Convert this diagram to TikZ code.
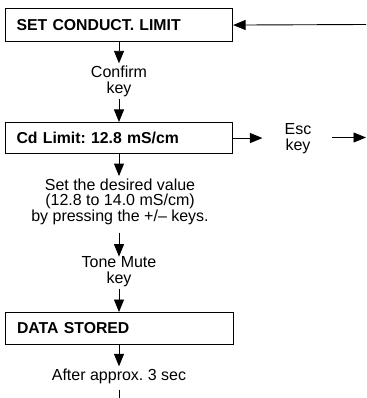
\documentclass[tikz,border=0pt]{standalone}
\usepackage{fontspec}
\setmainfont{Liberation Sans}
\usetikzlibrary{arrows.meta}
\frenchspacing
\begin{document}
\begin{tikzpicture}[x=1pt,y=-1pt,
  box/.style={draw, line width=1.1pt, anchor=north west, minimum width=227pt,
    text width=205pt, inner xsep=11pt, inner ysep=0pt, align=left,
    font=\fontsize{15.8}{18}\selectfont\bfseries},
  lbl/.style={align=center, inner sep=0pt, font=\fontsize{16}{16}\selectfont},
  arr/.style={line width=0.9pt, -{Triangle[length=12.5pt,width=10pt]}},
  ln/.style={line width=0.9pt}]
\useasboundingbox (0,0) rectangle (366,398);
\node[box, minimum height=33pt] (b1) at (5,8) {SET CONDUCT. LIMIT};
\node[lbl] (c1) at (119,81) {Confirm\\key};
\node[box, minimum height=31pt] (b2) at (5,122) {Cd Limit: 12.8 mS/cm};
\node[lbl] (esc) at (298,139) {Esc\\key};
\node[lbl, font=\fontsize{16}{14.6}\selectfont] (sv) at (120,202) {Set the desired value\\(12.8 to 14.0 mS/cm)\\by pressing the +/– keys.};
\node[lbl] (tm) at (119,272) {Tone Mute\\key};
\node[box, minimum height=32pt, minimum width=228pt] (b3) at (5,312) {DATA STORED};
\node[lbl] (af) at (119,376) {After approx. 3 sec};
\coordinate (tr) at (366,24.5);
\coordinate (er) at (366,137.5);
\coordinate (bt) at (119,399);
\draw[arr] (tr) -- (b1.east);
\draw[arr] (b1.south -| c1) -- ([yshift=2pt]c1.north);
\draw[arr] ([yshift=-2pt]c1.south) -- (b2.north -| c1);
\draw[arr, shorten >=22pt] (b2.east) -- (esc.west |- b2.east);
\draw[arr, shorten <=20pt] (esc.east |- er) -- (er);
\draw[arr] (b2.south -| c1) -- ([yshift=3pt]sv.north -| c1);
\draw[arr] ([yshift=-8pt]sv.south -| c1) -- ([yshift=0pt]tm.north);
\draw[arr] ([yshift=-2pt]tm.south) -- (b3.north -| tm);
\draw[arr] (b3.south -| af) -- ([yshift=2pt]af.north);
\draw[ln] ([yshift=-6pt]af.south) -- (bt);
\end{tikzpicture}
\end{document}
